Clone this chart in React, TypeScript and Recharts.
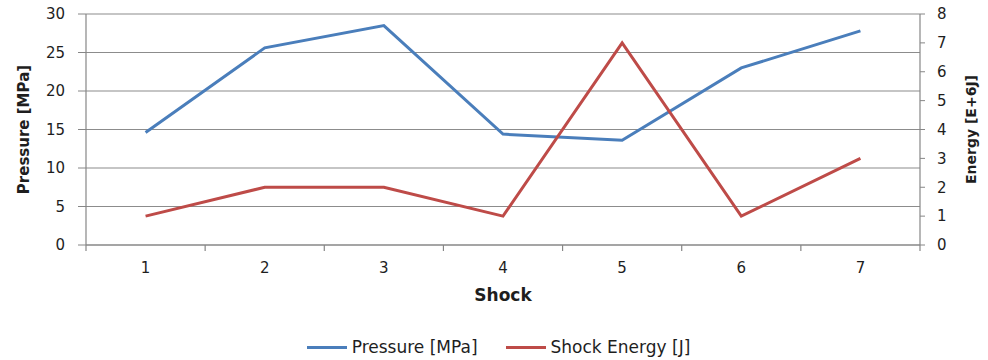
import { CartesianGrid, Legend, Line, LineChart, XAxis, YAxis } from "recharts";

const shocks = ["1", "2", "3", "4", "5", "6", "7"];
const pressureMPa = [14.6, 25.6, 28.5, 14.4, 13.6, 23.0, 27.8];
const shockEnergy = [1, 2, 2, 1, 7, 1, 3];
const pressureTicks = [0, 5, 10, 15, 20, 25, 30];
const energyTicks = [0, 1, 2, 3, 4, 5, 6, 7, 8];

const data = shocks.map((shock, i) => ({
  shock,
  pressure: pressureMPa[i],
  energy: shockEnergy[i],
}));

const FONT = "'DejaVu Sans', sans-serif";
const AXIS = "#868686";
const TEXT = "#1e1e1e";
const BLUE = "#4a7ebb";
const RED = "#be4b48";

// category ticks: label at the band centre, tick mark on the band edges
function ShockTick(props: any) {
  const { x, y, payload, index, visibleTicksCount } = props;
  const half = payload.offset ?? 0;
  const last = index === visibleTicksCount - 1;
  return (
    <g>
      <line x1={x - half} x2={x - half} y1={y} y2={y + 6} stroke={AXIS} strokeWidth={1.2} />
      {last && <line x1={x + half} x2={x + half} y1={y} y2={y + 6} stroke={AXIS} strokeWidth={1.2} />}
      <text x={x} y={y + 28} textAnchor="middle" fontFamily={FONT} fontSize={15} fill={TEXT}>
        {payload.value}
      </text>
    </g>
  );
}

function ChartLegend() {
  const swatch = (color: string) => (
    <span style={{ display: "inline-block", width: 40, height: 3, background: color, marginRight: 5 }} />
  );
  return (
    <div
      style={{
        display: "flex",
        justifyContent: "center",
        alignItems: "center",
        height: 24,
        paddingLeft: 9,
        fontFamily: FONT,
        fontSize: 17,
        color: TEXT,
      }}
    >
      {swatch(BLUE)}
      <span style={{ marginRight: 28 }}>Pressure [MPa]</span>
      {swatch(RED)}
      <span>Shock Energy [J]</span>
    </div>
  );
}

export default function App() {
  return (
    <div style={{ position: "absolute", left: 0, top: 0, background: "#fff" }}>
      <LineChart width={988} height={360} data={data} margin={{ top: 14, right: 0, bottom: 1, left: 0 }}>
        <CartesianGrid yAxisId="p" vertical={false} stroke="#8c8c8c" strokeWidth={1.2} />
        <XAxis
          dataKey="shock"
          scale="band"
          height={90}
          tickSize={0}
          tickMargin={0}
          tickLine={false}
          axisLine={{ stroke: AXIS, strokeWidth: 1.2 }}
          tick={<ShockTick />}
          interval={0}
          label={{
            content: ({ viewBox }: any) => (
              <text
                x={viewBox.x + viewBox.width / 2}
                y={viewBox.y + 56}
                textAnchor="middle"
                fontFamily={FONT}
                fontWeight="bold"
                fontSize={17}
                fill={TEXT}
              >
                Shock
              </text>
            ),
          }}
        />
        <YAxis
          yAxisId="p"
          width={86}
          domain={[0, 30]}
          ticks={pressureTicks}
          interval={0}
          tickSize={8}
          tickMargin={13}
          stroke={AXIS}
          axisLine={{ stroke: AXIS, strokeWidth: 1.2 }}
          tick={{ fill: TEXT, fontSize: 15, fontFamily: FONT }}
          label={{
            content: ({ viewBox }: any) => {
              const cx = viewBox.x + 24;
              const cy = viewBox.y + viewBox.height / 2;
              return (
                <text
                  x={cx}
                  y={cy}
                  transform={`rotate(-90 ${cx} ${cy})`}
                  textAnchor="middle"
                  dominantBaseline="central"
                  fontFamily={FONT}
                  fontWeight="bold"
                  fontSize={15}
                  fill={TEXT}
                >
                  Pressure [MPa]
                </text>
              );
            },
          }}
        />
        <YAxis
          yAxisId="e"
          orientation="right"
          width={68}
          domain={[0, 8]}
          ticks={energyTicks}
          interval={0}
          tickSize={5}
          tickMargin={12}
          stroke={AXIS}
          axisLine={{ stroke: AXIS, strokeWidth: 1.2 }}
          tick={{ fill: TEXT, fontSize: 15, fontFamily: FONT }}
          label={{
            content: ({ viewBox }: any) => {
              const cx = viewBox.x + 51;
              const cy = viewBox.y + viewBox.height / 2;
              return (
                <text
                  x={cx}
                  y={cy}
                  transform={`rotate(-90 ${cx} ${cy})`}
                  textAnchor="middle"
                  dominantBaseline="central"
                  fontFamily={FONT}
                  fontWeight="bold"
                  fontSize={14}
                  fill={TEXT}
                >
                  Energy [E+6J]
                </text>
              );
            },
          }}
        />
        <Legend verticalAlign="bottom" height={24} content={<ChartLegend />} />
        <Line
          yAxisId="p"
          type="linear"
          dataKey="pressure"
          name="Pressure [MPa]"
          stroke={BLUE}
          strokeWidth={3}
          dot={false}
          isAnimationActive={false}
        />
        <Line
          yAxisId="e"
          type="linear"
          dataKey="energy"
          name="Shock Energy [J]"
          stroke={RED}
          strokeWidth={3}
          dot={false}
          isAnimationActive={false}
        />
      </LineChart>
    </div>
  );
}
